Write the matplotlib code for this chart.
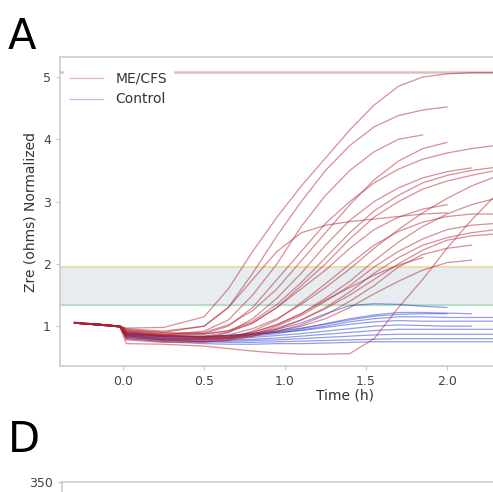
import numpy as np
import matplotlib
matplotlib.use("Agg")
import matplotlib.pyplot as plt

# time grid (h) shared by every trace, None = trace already ended
time_h = [-0.3, -0.15, -0.02, 0.02, 0.25, 0.5, 0.65, 0.8, 0.95, 1.1,
          1.25, 1.4, 1.55, 1.7, 1.85, 2.0, 2.15, 2.3]

mecfs_curves = [
    [1.06, 1.03, 1.0, 0.97, 0.98, 1.15, 1.6, 2.2, 2.75, 3.25, 3.7, 4.15, 4.55, 4.85, 5.0, 5.05, 5.07, 5.07],
    [1.05, 1.03, 1.0, 0.93, 0.9, 1.0, 1.3, 1.85, 2.45, 3.0, 3.5, 3.9, 4.2, 4.38, 4.47, 4.52, None, None],
    [1.05, 1.02, 0.99, 0.88, 0.86, 0.92, 1.1, 1.5, 2.0, 2.6, 3.1, 3.5, 3.8, 4.0, 4.07, None, None, None],
    [1.06, 1.03, 1.0, 0.9, 0.85, 0.88, 1.0, 1.3, 1.75, 2.2, 2.65, 3.0, 3.3, 3.52, 3.68, 3.78, 3.85, 3.9],
    [1.05, 1.02, 0.99, 0.82, 0.78, 0.8, 0.9, 1.12, 1.45, 1.85, 2.3, 2.7, 3.0, 3.22, 3.38, 3.48, 3.54, None],
    [1.06, 1.03, 1.0, 0.88, 0.84, 0.84, 0.9, 1.05, 1.3, 1.65, 2.0, 2.4, 2.75, 3.0, 3.2, 3.33, 3.42, 3.5],
    [1.05, 1.02, 0.99, 0.95, 0.9, 0.88, 0.92, 1.05, 1.3, 1.6, 1.9, 2.25, 2.55, 2.75, 2.88, 2.95, None, None],
    [1.05, 1.03, 1.0, 0.8, 0.76, 0.76, 0.8, 0.92, 1.1, 1.38, 1.68, 2.0, 2.3, 2.52, 2.67, 2.76, 2.8, 2.8],
    [1.06, 1.03, 1.0, 0.9, 0.84, 0.82, 0.84, 0.9, 1.02, 1.2, 1.45, 1.72, 2.05, 2.35, 2.6, 2.8, 2.95, 3.05],
    [1.05, 1.02, 0.99, 0.85, 0.78, 0.75, 0.77, 0.84, 0.95, 1.1, 1.3, 1.55, 1.85, 2.1, 2.3, 2.42, 2.5, 2.55],
    [1.05, 1.02, 1.0, 0.92, 0.86, 0.82, 0.81, 0.84, 0.92, 1.02, 1.18, 1.4, 1.65, 1.95, 2.15, 2.25, 2.3, None],
    [1.05, 1.03, 1.0, 0.9, 0.85, 0.83, 0.83, 0.86, 0.92, 1.0, 1.12, 1.3, 1.52, 1.72, 1.9, 2.02, 2.06, None],
    [1.05, 1.02, 0.99, 0.72, 0.71, 0.68, 0.64, 0.6, 0.57, 0.55, 0.55, 0.56, 0.8, 1.3, 1.75, 2.25, 2.7, 3.1],
    [1.05, 1.03, 1.0, 0.96, 0.92, 1.0, 1.3, 1.75, 2.2, 2.5, 2.62, 2.68, 2.72, 2.76, 2.8, 2.82, None, None],
    [1.05, 1.02, 0.99, 0.84, 0.79, 0.78, 0.82, 0.9, 1.03, 1.2, 1.42, 1.62, 1.82, 1.98, 2.1, None, None, None],
    [1.06, 1.03, 1.0, 0.88, 0.83, 0.82, 0.86, 0.96, 1.12, 1.35, 1.62, 1.92, 2.25, 2.55, 2.82, 3.05, 3.25, 3.4],
    [1.05, 1.02, 0.99, 0.78, 0.74, 0.74, 0.78, 0.87, 1.0, 1.17, 1.4, 1.65, 1.95, 2.2, 2.4, 2.55, 2.62, 2.65],
    [1.05, 1.03, 1.0, 0.91, 0.87, 0.9, 1.02, 1.25, 1.6, 2.05, 2.5, 2.95, 3.35, 3.65, 3.85, 3.95, None, None],
    [1.05, 1.02, 0.99, 0.86, 0.8, 0.79, 0.81, 0.87, 0.97, 1.1, 1.28, 1.5, 1.75, 2.0, 2.22, 2.38, 2.45, 2.48],
    [1.06, 1.03, 1.0, 0.93, 0.88, 0.87, 0.93, 1.08, 1.35, 1.7, 2.1, 2.5, 2.85, 3.1, 3.3, 3.42, 3.5, 3.55],
]

control_curves = [
    [1.05, 1.02, 1.0, 0.88, 0.84, 0.83, 0.85, 0.88, 0.95, 1.05, 1.2, 1.33, 1.36, 1.35, 1.32, 1.3, None, None],
    [1.05, 1.02, 0.99, 0.87, 0.83, 0.82, 0.83, 0.86, 0.9, 0.96, 1.04, 1.12, 1.18, 1.22, 1.22, 1.21, 1.2, None],
    [1.05, 1.03, 1.0, 0.86, 0.82, 0.8, 0.81, 0.84, 0.88, 0.94, 1.0, 1.07, 1.12, 1.15, 1.15, 1.14, 1.14, 1.14],
    [1.05, 1.02, 0.99, 0.88, 0.85, 0.84, 0.85, 0.87, 0.9, 0.93, 0.98, 1.03, 1.07, 1.09, 1.08, 1.08, 1.08, 1.08],
    [1.05, 1.02, 1.0, 0.85, 0.81, 0.8, 0.8, 0.82, 0.85, 0.88, 0.92, 0.96, 1.0, 1.02, 1.01, 1.0, 1.0, None],
    [1.05, 1.03, 1.0, 0.84, 0.8, 0.78, 0.78, 0.79, 0.81, 0.84, 0.87, 0.9, 0.93, 0.95, 0.95, 0.95, 0.95, 0.95],
    [1.05, 1.02, 0.99, 0.83, 0.78, 0.76, 0.76, 0.77, 0.78, 0.8, 0.82, 0.84, 0.86, 0.87, 0.87, 0.87, 0.87, 0.87],
    [1.05, 1.02, 0.99, 0.82, 0.77, 0.75, 0.74, 0.74, 0.75, 0.76, 0.77, 0.78, 0.79, 0.8, 0.8, 0.8, 0.8, 0.8],
    [1.05, 1.03, 1.0, 0.8, 0.75, 0.72, 0.71, 0.71, 0.72, 0.72, 0.73, 0.74, 0.75, 0.75, 0.75, 0.75, 0.75, 0.75],
    [1.05, 1.02, 1.0, 0.86, 0.83, 0.83, 0.85, 0.88, 0.92, 0.97, 1.03, 1.1, 1.16, 1.19, 1.2, 1.2, None, None],
]

# reference band and cap
band_low = 1.34
band_high = 1.95
cap_level = 5.08

y_ticks = [1, 2, 3, 4, 5]
x_ticks = [0.0, 0.5, 1.0, 1.5, 2.0]

plt.rcParams['font.family'] = ['DejaVu Sans']

fig = plt.figure(figsize=(4.93, 4.92), dpi=100)
ax = fig.add_axes([0.1217, 0.256, 1.156, 0.628])

ax.axhspan(band_low, band_high, color='#e6ecef', zorder=0)
ax.axhline(band_high, color='#eadcb0', lw=1.5, zorder=1)
ax.axhline(band_low, color='#b6dcc8', lw=1.5, zorder=1)
ax.axhline(cap_level, color='#dcc0c0', lw=1.8, zorder=1)

t = np.array(time_h)
for i, c in enumerate(control_curves):
    v = np.array([np.nan if x is None else x for x in c], dtype=float)
    ax.plot(t, v, color='#2a3ccc', alpha=0.5, lw=0.9, zorder=2,
            label='Control' if i == 0 else None)
for i, c in enumerate(mecfs_curves):
    v = np.array([np.nan if x is None else x for x in c], dtype=float)
    ax.plot(t, v, color='#b02030', alpha=0.5, lw=0.9, zorder=3,
            label='ME/CFS' if i == 0 else None)

ax.set_xlim(-0.39, 3.13)
ax.set_ylim(0.36, 5.32)
ax.set_xticks(x_ticks)
ax.set_yticks(y_ticks)
ax.set_yticklabels([str(y) for y in y_ticks])
ax.tick_params(labelsize=9, colors='#444444', length=3, width=0.6, color='#bbbbbb')
for s in ax.spines.values():
    s.set_color('#cccccc')
    s.set_linewidth(1.2)
ax.set_xlabel('Time (h)', fontsize=10, color='#333333', labelpad=0)
ax.set_ylabel('Zre (ohms) Normalized', fontsize=10, color='#333333', labelpad=4)

handles, labels = ax.get_legend_handles_labels()
order = [labels.index('ME/CFS'), labels.index('Control')]
leg = ax.legend([handles[k] for k in order], [labels[k] for k in order],
                loc='upper left', bbox_to_anchor=(0.0, 0.985), fontsize=10,
                frameon=True, facecolor='white', edgecolor='white',
                framealpha=1.0, handlelength=2.4, handletextpad=0.9,
                labelspacing=0.5, borderaxespad=0.3)
for h in leg.get_lines():
    h.set_alpha(0.35)
for txt in leg.get_texts():
    txt.set_color('#333333')

# next panel, cut off by the crop
ax2 = fig.add_axes([0.126, -0.6, 1.156, 0.62])
ax2.set_ylim(0, 350)
ax2.set_yticks([350])
ax2.set_xticks([])
ax2.tick_params(labelsize=9, colors='#444444', length=3, color='#bbbbbb')
for s in ax2.spines.values():
    s.set_color('#cccccc')
    s.set_linewidth(1.2)

fig.text(0.016, 0.968, 'A', fontsize=30, va='top', ha='left')
fig.text(0.016, 0.148, 'D', fontsize=30, va='top', ha='left')

fig.savefig('out.png', dpi=100)
